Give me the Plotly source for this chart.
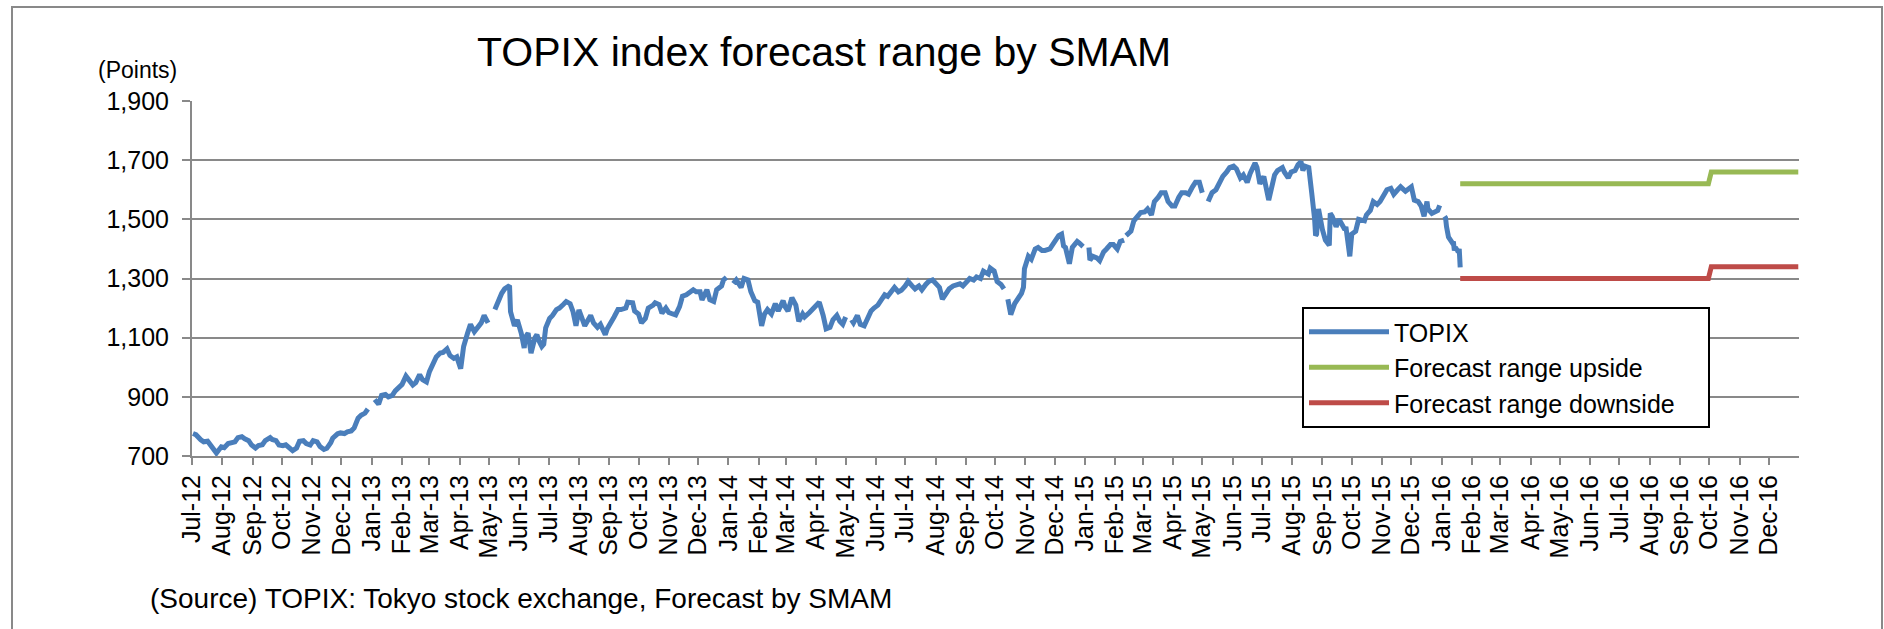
import plotly.graph_objects as go

# ---------------- data ----------------
D2012 = ["2012-07-02","2012-07-05","2012-07-10","2012-07-13","2012-07-17","2012-07-20","2012-07-24","2012-07-26","2012-07-31",
         "2012-08-03","2012-08-07","2012-08-10","2012-08-14","2012-08-17","2012-08-21","2012-08-24","2012-08-28","2012-08-31",
         "2012-09-04","2012-09-07","2012-09-11","2012-09-14","2012-09-19","2012-09-21","2012-09-25","2012-09-28",
         "2012-10-02","2012-10-05","2012-10-10","2012-10-12","2012-10-16","2012-10-19","2012-10-23","2012-10-26","2012-10-30",
         "2012-11-02","2012-11-06","2012-11-09","2012-11-13","2012-11-16","2012-11-20","2012-11-22","2012-11-27","2012-11-30",
         "2012-12-04","2012-12-07","2012-12-11","2012-12-14","2012-12-18","2012-12-21","2012-12-25","2012-12-28","2012-12-31"]
V2012 = [776,772,755,748,750,738,716,710,731,
         728,742,746,748,762,765,758,752,737,
         727,735,738,752,762,756,752,737,
         735,738,722,718,727,750,752,742,737,
         752,748,732,722,726,745,760,775,778,
         776,782,785,795,828,838,845,859,None]

D2013 = ["2013-01-04","2013-01-08","2013-01-11","2013-01-15","2013-01-18","2013-01-22","2013-01-25","2013-01-29",
         "2013-02-01","2013-02-05","2013-02-08","2013-02-12","2013-02-15","2013-02-19","2013-02-22","2013-02-26",
         "2013-03-01","2013-03-05","2013-03-08","2013-03-12","2013-03-15","2013-03-19","2013-03-22","2013-03-26","2013-03-29",
         "2013-04-02","2013-04-05","2013-04-09","2013-04-12","2013-04-16","2013-04-19","2013-04-23","2013-04-26","2013-04-30",
         "2013-05-03","2013-05-07","2013-05-10","2013-05-14","2013-05-17","2013-05-21","2013-05-22","2013-05-23","2013-05-27","2013-05-30",
         "2013-06-03","2013-06-06","2013-06-07","2013-06-10","2013-06-13","2013-06-17","2013-06-19","2013-06-21","2013-06-24","2013-06-26","2013-06-28",
         "2013-07-02","2013-07-05","2013-07-09","2013-07-12","2013-07-16","2013-07-19","2013-07-23","2013-07-26","2013-07-29",
         "2013-08-01","2013-08-07","2013-08-09","2013-08-13","2013-08-16","2013-08-20","2013-08-23","2013-08-28","2013-08-30",
         "2013-09-03","2013-09-06","2013-09-10","2013-09-13","2013-09-18","2013-09-20","2013-09-25","2013-09-27",
         "2013-10-01","2013-10-04","2013-10-08","2013-10-11","2013-10-16","2013-10-18","2013-10-22","2013-10-25","2013-10-29",
         "2013-11-01","2013-11-05","2013-11-08","2013-11-12","2013-11-15","2013-11-19","2013-11-22","2013-11-26","2013-11-29",
         "2013-12-03","2013-12-05","2013-12-10","2013-12-13","2013-12-17","2013-12-20","2013-12-25","2013-12-27","2013-12-30","2013-12-31"]
V2013 = [891,875,905,908,900,905,920,935,
         942,970,955,940,948,975,958,950,
         985,1010,1035,1048,1050,1062,1040,1030,1035,
         995,1070,1115,1145,1120,1135,1150,1175,1150,
         None,1195,1220,1250,1265,1272,1276,1188,1140,1160,
         1115,1065,1100,1115,1048,1100,1110,1090,1070,1078,1133,
         1165,1175,1195,1200,1212,1222,1215,1188,1140,
         1194,1140,1150,1175,1150,1135,1145,1110,1130,
         1150,1170,1195,1195,1200,1220,1218,1190,
         1180,1150,1165,1200,1210,1218,1212,1183,1200,
         1185,1180,1177,1205,1240,1245,1252,1262,1255,
         1255,1228,1262,1228,1222,1262,1275,1295,1304,None]

D2014 = ["2014-01-06","2014-01-09","2014-01-14","2014-01-17","2014-01-21","2014-01-24","2014-01-28","2014-01-31",
         "2014-02-04","2014-02-07","2014-02-10","2014-02-14","2014-02-18","2014-02-21","2014-02-26","2014-02-28",
         "2014-03-03","2014-03-07","2014-03-11","2014-03-14","2014-03-18","2014-03-20","2014-03-25","2014-03-28",
         "2014-04-01","2014-04-04","2014-04-08","2014-04-11","2014-04-15","2014-04-18","2014-04-22","2014-04-25","2014-04-28",
         "2014-05-01","2014-05-05","2014-05-07","2014-05-09","2014-05-13","2014-05-16","2014-05-20","2014-05-23","2014-05-27","2014-05-30",
         "2014-06-03","2014-06-06","2014-06-10","2014-06-13","2014-06-17","2014-06-20","2014-06-24","2014-06-27",
         "2014-07-01","2014-07-04","2014-07-08","2014-07-11","2014-07-15","2014-07-18","2014-07-22","2014-07-25","2014-07-29",
         "2014-08-01","2014-08-05","2014-08-08","2014-08-12","2014-08-15","2014-08-19","2014-08-22","2014-08-26","2014-08-29",
         "2014-09-02","2014-09-05","2014-09-09","2014-09-12","2014-09-16","2014-09-19","2014-09-24","2014-09-26","2014-09-30",
         "2014-10-03","2014-10-07","2014-10-10","2014-10-13","2014-10-14","2014-10-16","2014-10-17","2014-10-21","2014-10-24","2014-10-28","2014-10-30","2014-10-31",
         "2014-11-04","2014-11-07","2014-11-11","2014-11-14","2014-11-18","2014-11-21","2014-11-26","2014-11-28",
         "2014-12-02","2014-12-05","2014-12-08","2014-12-10","2014-12-12","2014-12-16","2014-12-19","2014-12-24","2014-12-26","2014-12-30","2014-12-31"]
V2014 = [1283,1295,1270,1300,1295,1255,1225,1220,
         1140,1180,1195,1180,1215,1190,1225,1205,
         1190,1235,1210,1155,1180,1170,1185,1195,
         1205,1220,1175,1130,1135,1160,1175,1155,1145,
         1170,None,1160,1150,1175,1145,1140,1165,1190,1200,
         1210,1225,1245,1240,1255,1270,1255,1260,
         1275,1290,1275,1265,1275,1262,1280,1290,1295,
         1285,1270,1230,1255,1265,1275,1280,1282,1275,
         1290,1300,1295,1305,1300,1325,1315,1335,1325,
         1290,1280,1265,None,1230,1190,1178,1215,1230,1250,1270,1333,
         1375,1365,1400,1405,1395,1395,1400,1410,
         1425,1445,1450,1410,1405,1350,1405,1425,1420,1408,None]

D2015 = ["2015-01-05","2015-01-06","2015-01-09","2015-01-13","2015-01-16","2015-01-20","2015-01-23","2015-01-27","2015-01-30",
         "2015-02-03","2015-02-06","2015-02-10","2015-02-11","2015-02-12","2015-02-17","2015-02-20","2015-02-24","2015-02-27",
         "2015-03-03","2015-03-06","2015-03-10","2015-03-13","2015-03-17","2015-03-20","2015-03-24","2015-03-27","2015-03-31",
         "2015-04-03","2015-04-07","2015-04-10","2015-04-14","2015-04-17","2015-04-21","2015-04-24","2015-04-28",
         "2015-05-01","2015-05-04","2015-05-07","2015-05-11","2015-05-15","2015-05-19","2015-05-22","2015-05-26","2015-05-29",
         "2015-06-02","2015-06-05","2015-06-09","2015-06-12","2015-06-16","2015-06-19","2015-06-24","2015-06-26","2015-06-29",
         "2015-07-03","2015-07-08","2015-07-10","2015-07-14","2015-07-17","2015-07-22","2015-07-24","2015-07-28","2015-07-31",
         "2015-08-04","2015-08-07","2015-08-10","2015-08-12","2015-08-14","2015-08-18","2015-08-20","2015-08-21","2015-08-24","2015-08-25","2015-08-26","2015-08-27","2015-08-28",
         "2015-09-01","2015-09-04","2015-09-08","2015-09-09","2015-09-11","2015-09-15","2015-09-18","2015-09-24","2015-09-25","2015-09-29",
         "2015-10-01","2015-10-05","2015-10-08","2015-10-14","2015-10-16","2015-10-20","2015-10-23","2015-10-27","2015-10-30",
         "2015-11-04","2015-11-06","2015-11-10","2015-11-13","2015-11-17","2015-11-20","2015-11-25","2015-11-27",
         "2015-12-01","2015-12-04","2015-12-08","2015-12-11","2015-12-14","2015-12-17","2015-12-18","2015-12-22","2015-12-25","2015-12-28","2015-12-30","2015-12-31"]
V2015 = [1405,1362,1375,1370,1360,1390,1400,1415,1415,
         1400,1425,1430,None,1445,1460,1495,1510,1523,
         1525,1535,1515,1560,1575,1590,1590,1560,1545,
         1545,1575,1590,1590,1585,1610,1625,1625,
         1590,None,1560,1590,1600,1625,1645,1660,1675,
         1680,1670,1640,1650,1625,1655,1690,1675,1620,
         1645,1565,1600,1650,1665,1675,1660,1640,1660,
         1665,1685,1695,1665,1680,1675,1630,1590,1500,1445,1450,1495,1535,
         1465,1430,1412,1520,1510,1475,1500,1465,1475,1375,
         1450,1460,1500,1495,1515,1530,1560,1550,1560,
         1585,1600,1605,1585,1600,1610,1595,1600,
         1610,1565,1560,1545,1510,1560,1535,1520,1525,1530,1547,None]

D2016 = ["2016-01-04","2016-01-05","2016-01-06","2016-01-07","2016-01-08","2016-01-12",
         "2016-01-13","2016-01-14","2016-01-15","2016-01-18","2016-01-19","2016-01-20"]
V2016 = [1510,1505,1475,1445,1440,1420,1425,1395,1405,1390,1400,1338]

FC_DATES = ["2016-01-20", "2016-09-30", "2016-10-03", "2016-12-31"]
FC_UPSIDE = [1620, 1620, 1660, 1660]
FC_DOWNSIDE = [1300, 1300, 1340, 1340]

TOPIX_DATES = D2012 + D2013 + D2014 + D2015 + D2016
TOPIX_VALUES = V2012 + V2013 + V2014 + V2015 + V2016
assert len(TOPIX_DATES) == len(TOPIX_VALUES)

SERIES_NAMES = ["TOPIX", "Forecast range upside", "Forecast range downside"]
TITLE = "TOPIX index forecast range by SMAM"
UNIT = "(Points)"
SOURCE = "(Source) TOPIX: Tokyo stock exchange, Forecast by SMAM"

# ---------------- styling ----------------
FONT = "Liberation Sans, Arial, sans-serif"
GRAY = "#898989"
W, H = 1884, 629
L, R, T, B = 192, 1799, 101, 456   # plot area in pixels
PAD = "\u00a0" * 4                  # right padding inside the legend box


def px(xpix):
    return (xpix - L) / (R - L)


def py(ypix):
    return (B - ypix) / (B - T)


fig = go.Figure()
fig.add_trace(go.Scatter(x=TOPIX_DATES, y=TOPIX_VALUES, mode="lines", name=SERIES_NAMES[0],
                         line=dict(color="#4A7EBB", width=5), connectgaps=False))
fig.add_trace(go.Scatter(x=FC_DATES, y=FC_UPSIDE, mode="lines", name=SERIES_NAMES[1],
                         line=dict(color="#98B954", width=5)))
fig.add_trace(go.Scatter(x=FC_DATES, y=FC_DOWNSIDE, mode="lines", name=SERIES_NAMES[2] + PAD,
                         line=dict(color="#BE4B48", width=5)))

fig.update_layout(
    width=W, height=H,
    margin=dict(l=L, r=W - R, t=T, b=H - B, pad=0),
    paper_bgcolor="white", plot_bgcolor="white",
    font=dict(family=FONT, color="black", size=25),
    showlegend=True,
    legend=dict(x=px(1302), y=py(307), xanchor="left", yanchor="top",
                bgcolor="white", bordercolor="black", borderwidth=2,
                font=dict(size=25, family=FONT, color="black"),
                itemwidth=80, tracegroupgap=0),
    xaxis=dict(type="date", range=["2012-07-01", "2016-12-31 18:00"],
               tickmode="linear", tick0="2012-07-01", dtick="M1", tickformat="%b-%y",
               tickangle=-90, ticks="outside", ticklen=7, tickwidth=2, tickcolor=GRAY,
               showline=True, linecolor=GRAY, linewidth=2, showgrid=False, zeroline=False,
               tickfont=dict(size=25, family=FONT, color="black")),
    yaxis=dict(range=[700, 1900], tickmode="linear", tick0=700, dtick=200, tickformat=",d",
               ticks="outside", ticklen=8, tickwidth=2, tickcolor=GRAY,
               showline=True, linecolor=GRAY, linewidth=2,
               showgrid=True, gridcolor=GRAY, gridwidth=2, zeroline=False,
               ticklabelstandoff=8,
               tickfont=dict(size=25, family=FONT, color="black")),
)

fig.add_annotation(text=TITLE, xref="paper", yref="paper", x=px(824), y=py(52),
                   xanchor="center", yanchor="middle", showarrow=False,
                   font=dict(size=41, family=FONT, color="black"))
fig.add_annotation(text=UNIT, xref="paper", yref="paper", x=px(137), y=py(70),
                   xanchor="center", yanchor="middle", showarrow=False,
                   font=dict(size=23, family=FONT, color="black"))
fig.add_annotation(text=SOURCE, xref="paper", yref="paper", x=px(148), y=py(598),
                   xanchor="left", yanchor="middle", showarrow=False,
                   font=dict(size=28, family=FONT, color="black"))

# outer frame of the chart area
fig.add_shape(type="rect", xref="paper", yref="paper",
              x0=px(12), x1=px(1882), y0=py(660), y1=py(7),
              line=dict(color=GRAY, width=2), fillcolor="rgba(0,0,0,0)", layer="below")

fig.write_html("out.html", config={"displayModeBar": False},
               post_script="document.body.style.margin='0';document.body.style.overflow='hidden';")
